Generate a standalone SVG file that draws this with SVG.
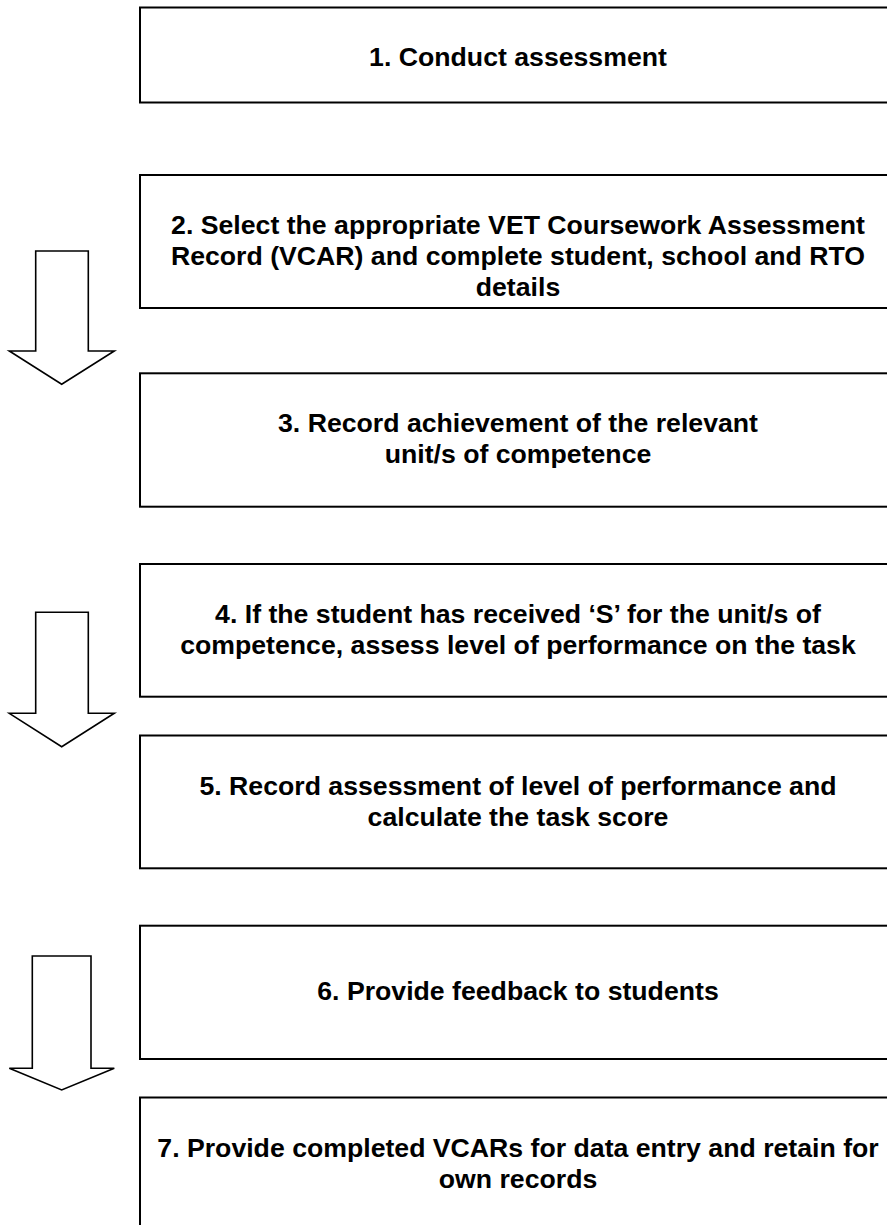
<svg xmlns="http://www.w3.org/2000/svg" width="887" height="1225" viewBox="0 0 887 1225">
<style>
.box{fill:#ffffff;stroke:#000000;stroke-width:2}
.arr{fill:#ffffff;stroke:#000000;stroke-width:1.6;stroke-linejoin:miter}
.t{font-family:"Liberation Sans",Arial,sans-serif;font-weight:bold;font-size:26.67px;fill:#000000;text-anchor:middle}
</style>
<rect x="0" y="0" width="887" height="1225" fill="#ffffff"/>
<g id="connectors">
<polygon class="arr" points="35.7,251 88.3,251 88.3,351 114.3,351 61.7,384.3 9.3,351 35.7,351"/>
<polygon class="arr" points="35.7,612.3 88.3,612.3 88.3,713.3 114.3,713.3 61.7,746.7 9.3,713.3 35.7,713.3"/>
<polygon class="arr" points="32.3,956 91,956 91,1068.3 114.3,1068.3 61.7,1090 9.3,1068.3 32.3,1068.3"/>
</g>
<g id="node1">
<rect class="box" x="140" y="7.5" width="756" height="95"/>
<text class="t" x="518" y="66">1. Conduct assessment</text>
</g>
<g id="node2">
<rect class="box" x="140" y="175" width="756" height="133"/>
<text class="t" x="518" y="233.5">2. Select the appropriate VET Coursework Assessment</text>
<text class="t" x="518" y="264.5">Record (VCAR) and complete student, school and RTO</text>
<text class="t" x="518" y="295.5">details</text>
</g>
<g id="node3">
<rect class="box" x="140" y="373.3" width="756" height="133.4"/>
<text class="t" x="518" y="432">3. Record achievement of the relevant</text>
<text class="t" x="518" y="463">unit/s of competence</text>
</g>
<g id="node4">
<rect class="box" x="140" y="564" width="756" height="132.7"/>
<text class="t" x="518" y="623.3">4. If the student has received ‘S’ for the unit/s of</text>
<text class="t" x="518" y="654.3">competence, assess level of performance on the task</text>
</g>
<g id="node5">
<rect class="box" x="140" y="735.5" width="756" height="132.8"/>
<text class="t" x="518" y="794.5">5. Record assessment of level of performance and</text>
<text class="t" x="518" y="825.5">calculate the task score</text>
</g>
<g id="node6">
<rect class="box" x="140" y="925.7" width="756" height="133.3"/>
<text class="t" x="518" y="1000">6. Provide feedback to students</text>
</g>
<g id="node7">
<rect class="box" x="140" y="1097.5" width="756" height="160"/>
<text class="t" x="518" y="1157">7. Provide completed VCARs for data entry and retain for</text>
<text class="t" x="518" y="1187.5">own records</text>
</g>
</svg>
